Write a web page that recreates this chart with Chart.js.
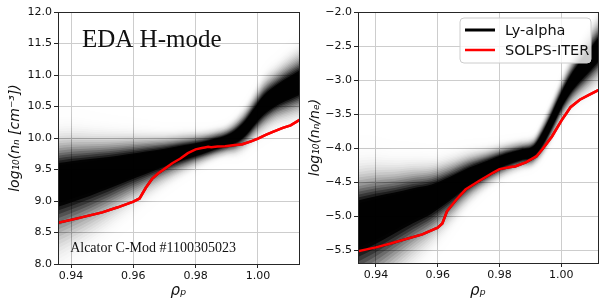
<!DOCTYPE html>
<html>
<head>
<meta charset="utf-8">
<script src="https://cdn.jsdelivr.net/npm/chart.js@4.4.1/dist/chart.umd.min.js"></script>
<style>
  body { margin: 0; background: #fff; }
  #wrap { position: relative; width: 606px; height: 303px; }
  .panel { position: absolute; top: 0; width: 303px; height: 303px; }
</style>
</head>
<body>
<div id="wrap">
  <div class="panel" style="left:0"><canvas id="left" width="303" height="303"></canvas></div>
  <div class="panel" style="left:303px"><canvas id="right" width="303" height="303"></canvas></div>
</div>
<script>
// Ly-alpha band, left panel (log10 n_n): middle of the band and half-widths above / below
const bandRhoL = [0.933, 0.940, 0.946, 0.952, 0.958, 0.964, 0.970, 0.976, 0.982, 0.986, 0.990, 0.993, 0.996, 0.999, 1.002, 1.006, 1.010, 1.015];
const bandMidL = [9.30, 9.37, 9.43, 9.49, 9.56, 9.63, 9.70, 9.77, 9.84, 9.90, 9.96, 10.03, 10.16, 10.35, 10.53, 10.68, 10.79, 10.92];
const bandUpL  = [0.32, 0.30, 0.27, 0.24, 0.21, 0.18, 0.15, 0.13, 0.11, 0.10, 0.10, 0.12, 0.14, 0.16, 0.18, 0.19, 0.21, 0.23];
const bandLoL  = [0.50, 0.45, 0.40, 0.34, 0.28, 0.23, 0.18, 0.14, 0.11, 0.10, 0.10, 0.12, 0.14, 0.16, 0.18, 0.19, 0.21, 0.23];

// SOLPS-ITER, left panel
const solpsRhoL = [0.9355, 0.940, 0.945, 0.950, 0.955, 0.960, 0.962, 0.964, 0.966, 0.968, 0.970, 0.9725, 0.975, 0.9775, 0.980, 0.982, 0.983, 0.984, 0.985, 0.987, 0.9895, 0.992, 0.995, 0.998, 1.000, 1.0025, 1.005, 1.008, 1.0105, 1.0135];
const solpsNn   = [8.65, 8.70, 8.76, 8.82, 8.90, 8.99, 9.04, 9.21, 9.35, 9.44, 9.51, 9.60, 9.67, 9.76, 9.82, 9.84, 9.85, 9.86, 9.855, 9.865, 9.87, 9.885, 9.90, 9.95, 9.99, 10.05, 10.10, 10.16, 10.20, 10.29];

// Ly-alpha band, right panel (log10 n_n/n_e)
const bandRhoR = [0.933, 0.940, 0.946, 0.952, 0.958, 0.964, 0.970, 0.976, 0.982, 0.987, 0.991, 0.994, 0.997, 1.000, 1.003, 1.006, 1.009, 1.013];
const bandMidR = [-5.08, -4.98, -4.89, -4.80, -4.72, -4.58, -4.42, -4.29, -4.17, -4.10, -4.05, -3.86, -3.59, -3.30, -3.06, -2.88, -2.72, -2.50];
const bandUpR  = [0.34, 0.31, 0.27, 0.24, 0.21, 0.18, 0.15, 0.12, 0.10, 0.09, 0.09, 0.11, 0.12, 0.13, 0.15, 0.17, 0.19, 0.21];
const bandLoR  = [0.55, 0.49, 0.42, 0.35, 0.28, 0.22, 0.16, 0.12, 0.10, 0.09, 0.09, 0.11, 0.12, 0.13, 0.15, 0.17, 0.19, 0.21];

// SOLPS-ITER, right panel
const solpsRhoR  = [0.934, 0.940, 0.945, 0.9488, 0.955, 0.960, 0.9615, 0.963, 0.966, 0.969, 0.9735, 0.978, 0.980, 0.9835, 0.985, 0.9885, 0.992, 0.994, 0.997, 1.000, 1.003, 1.006, 1.009, 1.012];
const solpsRatio = [-5.52, -5.46, -5.40, -5.35, -5.27, -5.17, -5.11, -4.93, -4.76, -4.61, -4.48, -4.36, -4.31, -4.28, -4.27, -4.21, -4.12, -4.01, -3.83, -3.60, -3.40, -3.29, -3.22, -3.15];

const legendLabels = ['Ly-alpha', 'SOLPS-ITER'];
const legendColors = ['#000000', '#ff0000'];

Chart.defaults.font.family = "'DejaVu Sans', sans-serif";
Chart.defaults.color = '#111';

// shading layers: each layer is a filled band with some alpha, stacked they give a soft profile
const layerU = [];
for (let k = 1; k <= 30; k++) layerU.push(k * 0.125);
const uEnd = layerU[layerU.length - 1];
function shade(u) {
  const tail = 0.12 * (Math.exp(-u * u / 8) - Math.exp(-uEnd * uEnd / 8));
  return Math.min(1, 1.25 * Math.exp(-u * u / 2) + Math.max(tail, 0));
}
const layerAlpha = layerU.map((u, k) => {
  const prev = k === 0 ? 0 : layerU[k - 1];
  const tIn = Math.max(1 - shade((prev + u) / 2), 0.003);
  const tOut = k < layerU.length - 1 ? Math.max(1 - shade((u + layerU[k + 1]) / 2), 0.003) : 1;
  return 1 - tIn / tOut;
});

function bandSets(rho, mid, up, lo) {
  const sets = [];
  layerU.forEach((u, k) => {
    if (layerAlpha[k] < 0.001) return;
    sets.push({
      data: rho.map((x, i) => ({ x: x, y: mid[i] + u * up[i] })),
      borderWidth: 0, borderColor: 'rgba(0,0,0,0)', pointRadius: 0, fill: false,
      cubicInterpolationMode: 'monotone'
    });
    sets.push({
      data: rho.map((x, i) => ({ x: x, y: mid[i] - u * lo[i] })),
      borderWidth: 0, borderColor: 'rgba(0,0,0,0)', pointRadius: 0, fill: '-1',
      backgroundColor: 'rgba(0,0,0,' + layerAlpha[k].toFixed(4) + ')',
      cubicInterpolationMode: 'monotone'
    });
  });
  return sets;
}

function minus(v, d) {
  const s = Math.abs(v).toFixed(d);
  return v < -1e-9 ? '\u2212' + s : s;
}

// frame, SOLPS line on top of the grid, text notes and the legend box
const panelDeco = {
  id: 'panelDeco',
  afterDraw(chart, args, opts) {
    const { ctx, chartArea: a, scales } = chart;
    const meta = chart.getDatasetMeta(chart.data.datasets.length - 1);
    ctx.save();
    ctx.beginPath();
    ctx.rect(a.left, a.top, a.right - a.left, a.bottom - a.top);
    ctx.clip();
    meta.controller.draw();
    ctx.restore();

    ctx.save();
    ctx.strokeStyle = '#262626';
    ctx.lineWidth = 1;
    ctx.strokeRect(a.left + 0.5, a.top + 0.5, a.right - a.left, a.bottom - a.top);

    (opts.notes || []).forEach(n => {
      ctx.font = n.font;
      ctx.fillStyle = '#111';
      ctx.textBaseline = 'alphabetic';
      ctx.textAlign = 'left';
      ctx.fillText(n.text, scales.x.getPixelForValue(n.x), scales.y.getPixelForValue(n.y));
    });

    if (opts.legend) {
      const bw = 131, bh = 45;
      const bx = a.right - 7 - bw, by = a.top + 6;
      ctx.beginPath();
      ctx.roundRect(bx, by, bw, bh, 4);
      ctx.fillStyle = 'rgba(255,255,255,0.8)';
      ctx.fill();
      ctx.strokeStyle = '#cccccc';
      ctx.lineWidth = 1;
      ctx.stroke();
      legendLabels.forEach((t, i) => {
        const cy = by + 12 + i * 20;
        ctx.beginPath();
        ctx.moveTo(bx + 5, cy);
        ctx.lineTo(bx + 35, cy);
        ctx.strokeStyle = legendColors[i];
        ctx.lineWidth = i === 0 ? 3 : 2.5;
        ctx.stroke();
        ctx.font = "14.5px 'DejaVu Sans'";
        ctx.fillStyle = '#111';
        ctx.textBaseline = 'middle';
        ctx.fillText(t, bx + 45, cy + 1);
      });
    }
    ctx.restore();
  }
};

function makePanel(id, cfg) {
  const datasets = bandSets(cfg.bandRho, cfg.bandMid, cfg.bandUp, cfg.bandLo);
  datasets.push({
    data: cfg.lineRho.map((x, i) => ({ x: x, y: cfg.lineVal[i] })),
    borderColor: '#ff0000', borderWidth: 2.5, pointRadius: 0, fill: false, tension: 0
  });
  const tickFont = { size: 11 };
  return new Chart(document.getElementById(id), {
    type: 'line',
    data: { datasets: datasets },
    plugins: [panelDeco],
    options: {
      responsive: false,
      animation: false,
      devicePixelRatio: 1,
      layout: { padding: { top: 12, right: cfg.padRight, left: 0, bottom: 0 } },
      plugins: {
        legend: { display: false },
        tooltip: { enabled: false },
        panelDeco: { notes: cfg.notes, legend: cfg.legend }
      },
      scales: {
        x: {
          type: 'linear', min: cfg.xMin, max: cfg.xMax, z: 1,
          ticks: { stepSize: 0.02, includeBounds: false, font: tickFont, padding: 2, maxRotation: 0,
                   callback: v => v.toFixed(2) },
          grid: { color: '#cdcdcd', tickColor: '#262626', tickLength: 4 },
          border: { display: false },
          title: { display: true, text: '\u03c1\u209a', font: { size: 15, style: 'italic' }, padding: { top: 0, bottom: 3 } },
          afterFit: s => { s.height = cfg.xHeight; }
        },
        y: {
          type: 'linear', min: cfg.yMin, max: cfg.yMax, z: 1,
          ticks: { stepSize: 0.5, includeBounds: false, font: tickFont, padding: 2,
                   callback: v => minus(v, 1) },
          grid: { color: '#cdcdcd', tickColor: '#262626', tickLength: 4 },
          border: { display: false },
          title: { display: true, text: cfg.yTitle, font: { size: 14, style: 'italic' }, padding: { top: cfg.yTitlePad, bottom: 0 } },
          afterFit: s => { s.width = cfg.yWidth; }
        }
      }
    }
  });
}

makePanel('left', {
  bandRho: bandRhoL, bandMid: bandMidL, bandUp: bandUpL, bandLo: bandLoL,
  lineRho: solpsRhoL, lineVal: solpsNn,
  xMin: 0.9358, xMax: 1.0132, yMin: 8, yMax: 12,
  yWidth: 58, xHeight: 39, padRight: 4, yTitlePad: 7,
  yTitle: 'log\u2081\u2080(n\u2099 [cm\u207b\u00b3])',
  notes: [
    { text: 'EDA H-mode', x: 0.9435, y: 11.45, font: "25px 'Liberation Serif'" },
    { text: 'Alcator C-Mod #1100305023', x: 0.9397, y: 8.19, font: "14px 'Liberation Serif'" }
  ],
  legend: false
});

makePanel('right', {
  bandRho: bandRhoR, bandMid: bandMidR, bandUp: bandUpR, bandLo: bandLoR,
  lineRho: solpsRhoR, lineVal: solpsRatio,
  xMin: 0.9342, xMax: 1.0119, yMin: -5.69, yMax: -2.0,
  yWidth: 55, xHeight: 40, padRight: 8, yTitlePad: 4,
  yTitle: 'log\u2081\u2080(n\u2099/n\u2091)',
  notes: [],
  legend: true
});
</script>
</body>
</html>
